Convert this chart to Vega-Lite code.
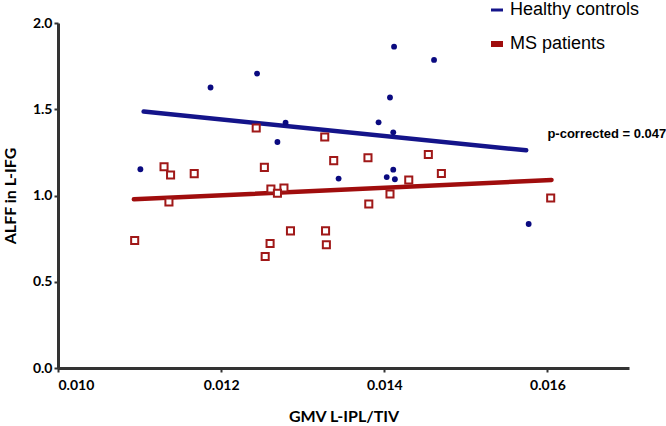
{
  "$schema": "https://vega.github.io/schema/vega-lite/v6.json",
  "width": 571,
  "height": 345,
  "autosize": {"type": "none"},
  "padding": {"left": 58, "top": 23, "right": 37, "bottom": 58},
  "background": "white",
  "config": {
    "view": {"stroke": null},
    "axis": {
      "grid": false,
      "domainColor": "#333333",
      "domainWidth": 3,
      "tickColor": "#333333",
      "tickWidth": 2,
      "tickSize": 4,
      "labelFont": "Lato",
      "labelFontWeight": "bold",
      "labelFontSize": 14,
      "labelColor": "#000000",
      "titleFont": "Lato",
      "titleFontWeight": "bold",
      "titleFontSize": 16,
      "titleColor": "#000000"
    }
  },
  "datasets": {
    "hc": [
      {"gmv": 0.01101, "alff": 1.152},
      {"gmv": 0.01187, "alff": 1.626},
      {"gmv": 0.01244, "alff": 1.707},
      {"gmv": 0.01279, "alff": 1.422},
      {"gmv": 0.01269, "alff": 1.310},
      {"gmv": 0.01393, "alff": 1.424},
      {"gmv": 0.01344, "alff": 1.098},
      {"gmv": 0.01412, "alff": 1.863},
      {"gmv": 0.01461, "alff": 1.786},
      {"gmv": 0.01407, "alff": 1.568},
      {"gmv": 0.01411, "alff": 1.366},
      {"gmv": 0.01411, "alff": 1.150},
      {"gmv": 0.01403, "alff": 1.107},
      {"gmv": 0.01413, "alff": 1.094},
      {"gmv": 0.01577, "alff": 0.835}
    ],
    "ms": [
      {"gmv": 0.01243, "alff": 1.391},
      {"gmv": 0.01327, "alff": 1.339},
      {"gmv": 0.01130, "alff": 1.167},
      {"gmv": 0.01138, "alff": 1.119},
      {"gmv": 0.01167, "alff": 1.127},
      {"gmv": 0.01253, "alff": 1.163},
      {"gmv": 0.01338, "alff": 1.202},
      {"gmv": 0.01380, "alff": 1.219},
      {"gmv": 0.01261, "alff": 1.038},
      {"gmv": 0.01277, "alff": 1.043},
      {"gmv": 0.01269, "alff": 1.013},
      {"gmv": 0.01136, "alff": 0.962},
      {"gmv": 0.01094, "alff": 0.739},
      {"gmv": 0.01285, "alff": 0.795},
      {"gmv": 0.01328, "alff": 0.795},
      {"gmv": 0.01260, "alff": 0.722},
      {"gmv": 0.01254, "alff": 0.646},
      {"gmv": 0.01329, "alff": 0.714},
      {"gmv": 0.01381, "alff": 0.951},
      {"gmv": 0.01454, "alff": 1.238},
      {"gmv": 0.01470, "alff": 1.128},
      {"gmv": 0.01430, "alff": 1.090},
      {"gmv": 0.01407, "alff": 1.009},
      {"gmv": 0.01604, "alff": 0.986}
    ],
    "fit": [
      {"group": "Healthy controls", "gmv": 0.01105, "alff": 1.487},
      {"group": "Healthy controls", "gmv": 0.01574, "alff": 1.262},
      {"group": "MS patients", "gmv": 0.01093, "alff": 0.978},
      {"group": "MS patients", "gmv": 0.01605, "alff": 1.090}
    ],
    "note": [
      {"gmv": 0.01600, "alff": 1.354, "label": "p-corrected = 0.047"}
    ]
  },
  "layer": [
    {
      "data": {"name": "fit"},
      "mark": {"type": "line", "strokeWidth": 4.5, "strokeCap": "round"},
      "encoding": {
        "x": {
          "field": "gmv", "type": "quantitative",
          "scale": {"domain": [0.010, 0.017], "nice": false, "zero": false},
          "axis": {"values": [0.010, 0.012, 0.014, 0.016], "format": ".3f", "title": "GMV L-IPL/TIV", "labelPadding": 6, "titlePadding": 16}
        },
        "y": {
          "field": "alff", "type": "quantitative",
          "scale": {"domain": [0, 2], "nice": false},
          "axis": {"values": [0, 0.5, 1, 1.5, 2], "format": ".1f", "title": "ALFF in L-IFG", "labelPadding": 2, "titlePadding": 14}
        },
        "color": {
          "field": "group", "type": "nominal",
          "scale": {"domain": ["Healthy controls", "MS patients"], "range": ["#14148a", "#a00d0d"]},
          "legend": {
            "title": null,
            "orient": "none",
            "legendX": 430,
            "legendY": -22,
            "padding": 0,
            "symbolType": "stroke",
            "symbolSize": 144,
            "symbolStrokeWidth": 4,
            "labelFont": "Liberation Sans",
            "labelFontSize": 18,
            "labelColor": "#000000",
            "labelOffset": 4,
            "rowPadding": 13,
            "encode": {
              "symbols": {"update": {"strokeWidth": {"signal": "datum.value === 'MS patients' ? 6 : 3"}}}
            }
          }
        },
        "detail": {"field": "group"}
      }
    },
    {
      "data": {"name": "hc"},
      "mark": {"type": "point", "shape": "circle", "filled": true, "size": 34, "color": "#0a0a80", "opacity": 1},
      "encoding": {
        "x": {"field": "gmv", "type": "quantitative"},
        "y": {"field": "alff", "type": "quantitative"}
      }
    },
    {
      "data": {"name": "ms"},
      "mark": {"type": "point", "shape": "square", "filled": false, "size": 50, "stroke": "#a01818", "strokeWidth": 2, "fill": "white", "fillOpacity": 1, "opacity": 1},
      "encoding": {
        "x": {"field": "gmv", "type": "quantitative"},
        "y": {"field": "alff", "type": "quantitative"}
      }
    },
    {
      "data": {"name": "note"},
      "mark": {"type": "text", "align": "left", "baseline": "middle", "font": "Liberation Sans", "fontWeight": "bold", "fontSize": 13, "color": "#000000"},
      "encoding": {
        "x": {"field": "gmv", "type": "quantitative"},
        "y": {"field": "alff", "type": "quantitative"},
        "text": {"field": "label", "type": "nominal"}
      }
    }
  ]
}
